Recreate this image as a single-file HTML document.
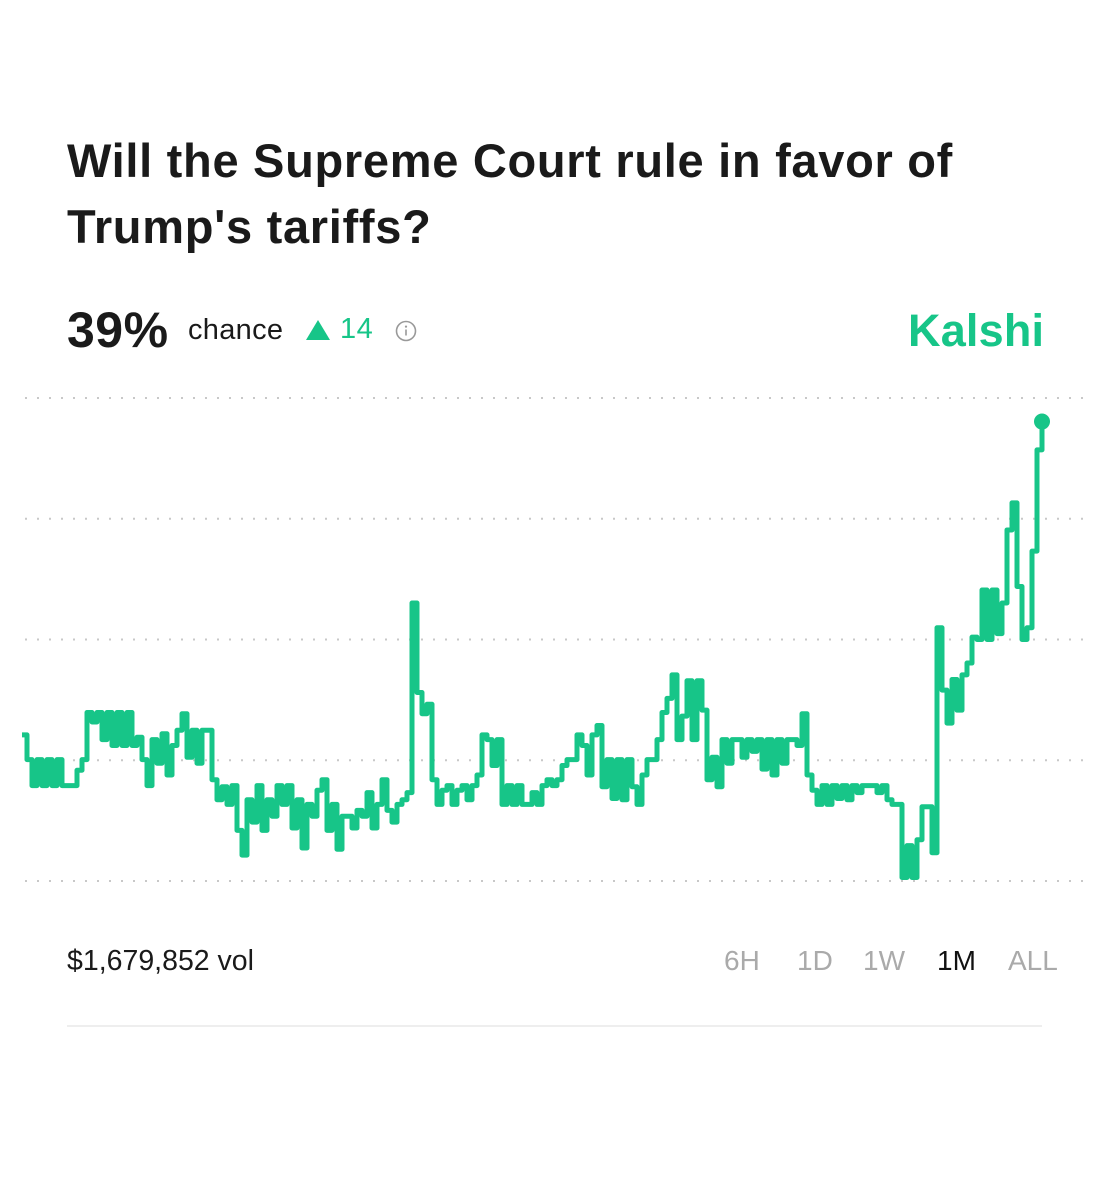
<!DOCTYPE html>
<html><head><meta charset="utf-8"><style>
html,body{margin:0;padding:0;background:#fff;width:1107px;height:1200px;overflow:hidden;font-family:"Liberation Sans",sans-serif;color:#1a1a1a}
.abs{position:absolute;white-space:nowrap}
</style></head><body>
<div class="abs" style="left:67px;top:128px;font-size:47px;font-weight:bold;line-height:66px;letter-spacing:0.7px">Will the Supreme Court rule in favor of<br>Trump's tariffs?</div>
<div class="abs" style="left:67px;top:301px;font-size:50px;font-weight:bold;letter-spacing:0.5px">39%</div>
<div class="abs" style="left:188px;top:314px;font-size:29px;letter-spacing:0.3px">chance</div>
<svg class="abs" style="left:305px;top:319px" width="26" height="22"><polygon points="13,1 25,21 1,21" fill="#17c588"/></svg>
<div class="abs" style="left:340px;top:313px;font-size:29px;color:#17c588;letter-spacing:0.5px">14</div>
<svg class="abs" style="left:395px;top:320px" width="22" height="22"><circle cx="11" cy="11" r="9.5" fill="none" stroke="#999" stroke-width="1.6"/><rect x="10.2" y="9.5" width="1.6" height="6" fill="#999"/><circle cx="11" cy="6.6" r="1.1" fill="#999"/></svg>
<div class="abs" style="left:908px;top:305px;font-size:45px;font-weight:bold;color:#17c588;letter-spacing:0.2px">Kalshi</div>
<svg id="chart" class="abs" style="left:0;top:0" width="1107" height="920"></svg>
<div class="abs" style="left:67px;top:945px;font-size:28.5px">$1,679,852 vol</div>
<div class="abs" style="left:724px;top:945px;font-size:28px;color:#aaa">6H</div>
<div class="abs" style="left:797px;top:945px;font-size:28px;color:#aaa">1D</div>
<div class="abs" style="left:863px;top:945px;font-size:28px;color:#aaa">1W</div>
<div class="abs" style="left:937px;top:945px;font-size:28px;color:#111">1M</div>
<div class="abs" style="left:1008px;top:945px;font-size:28px;color:#aaa">ALL</div>
<div class="abs" style="left:67px;top:1025px;width:975px;height:2px;background:#eee"></div>
<script>
const gridValues=[0,10.25,20.5,30.75,41];
const values=[
12.4,10.3,8.1,10.3,8.1,10.3,8.1,10.3,8.1,8.1,
8.1,9.4,10.3,14.3,13.5,14.3,12,14.3,11.5,14.3,
11.5,14.3,11.5,12.2,10.3,8.1,12,10,12.5,9,
11.5,12.8,14.2,10.5,12.8,10,12.8,12.8,8.6,6.9,
8,6.5,8.1,4.3,2.2,6.9,5,8.1,4.3,6.9,
5.5,8.1,6.5,8.1,4.5,6.9,2.8,6.5,5.5,7.7,
8.6,4.3,6.5,2.7,5.5,5.5,4.5,6,5.5,7.5,
4.5,6.5,8.6,6,5,6.5,6.9,7.5,23.6,16,
14.2,15,8.6,6.5,7.7,8.1,6.5,7.7,8.1,6.9,
8.1,9,12.4,12,9.8,12,6.5,8.1,6.5,8.1,
6.5,6.5,7.5,6.5,8.1,8.6,8.1,8.6,9.8,10.3,
10.3,12.4,11.5,9,12.4,13.2,8,10.3,7,10.3,
6.9,10.3,8,6.5,9,10.3,10.3,12,14.3,15.5,
17.5,12,14,17,12,17,14.5,8.6,10.5,8,
12,10,12,12,10.5,12,11,12,9.5,12,
9,12,10,12,12,11.5,14.2,9,7.7,6.5,
8.1,6.5,8.1,7,8.1,6.9,8.1,7.5,8.1,8.1,
8.1,7.5,8.1,6.9,6.5,6.5,0.3,3,0.3,3.5,
6.3,6.3,2.4,21.5,16.2,13.4,17.1,14.5,17.5,18.5,
20.7,20.5,24.7,20.5,24.7,21,23.6,29.8,32.1,25,
20.5,21.5,28,36.6,39];
const NS='http://www.w3.org/2000/svg';
const svg=document.getElementById('chart');
const X0=22,X1=1042,Y0=881,Y1=398,V0=0,V1=41;
function xs(i){return X0+(X1-X0)*i/(values.length-1);}
function ys(v){return Y0-(v-V0)/(V1-V0)*(Y0-Y1);}
gridValues.forEach(g=>{
  const l=document.createElementNS(NS,'line');
  
  
  l.setAttribute('x1',25);l.setAttribute('x2',1083);
  l.setAttribute('y1',ys(g));l.setAttribute('y2',ys(g));
  l.setAttribute('stroke','#c8c8c8');l.setAttribute('stroke-width','2');
  l.setAttribute('stroke-dasharray','2 10');
  svg.appendChild(l);
});
let d='M'+xs(0)+' '+ys(values[0]);
for(let i=1;i<values.length;i++){d+=' H'+xs(i)+' V'+ys(values[i]);}
const p=document.createElementNS(NS,'path');


p.setAttribute('d',d);p.setAttribute('fill','none');
p.setAttribute('stroke','#17c588');p.setAttribute('stroke-width','5');
p.setAttribute('stroke-linejoin','round');
svg.appendChild(p);
const c=document.createElementNS(NS,'circle');


c.setAttribute('cx',xs(values.length-1));c.setAttribute('cy',ys(values[values.length-1]));
c.setAttribute('r','8');c.setAttribute('fill','#17c588');
svg.appendChild(c);
</script>
</body></html>
